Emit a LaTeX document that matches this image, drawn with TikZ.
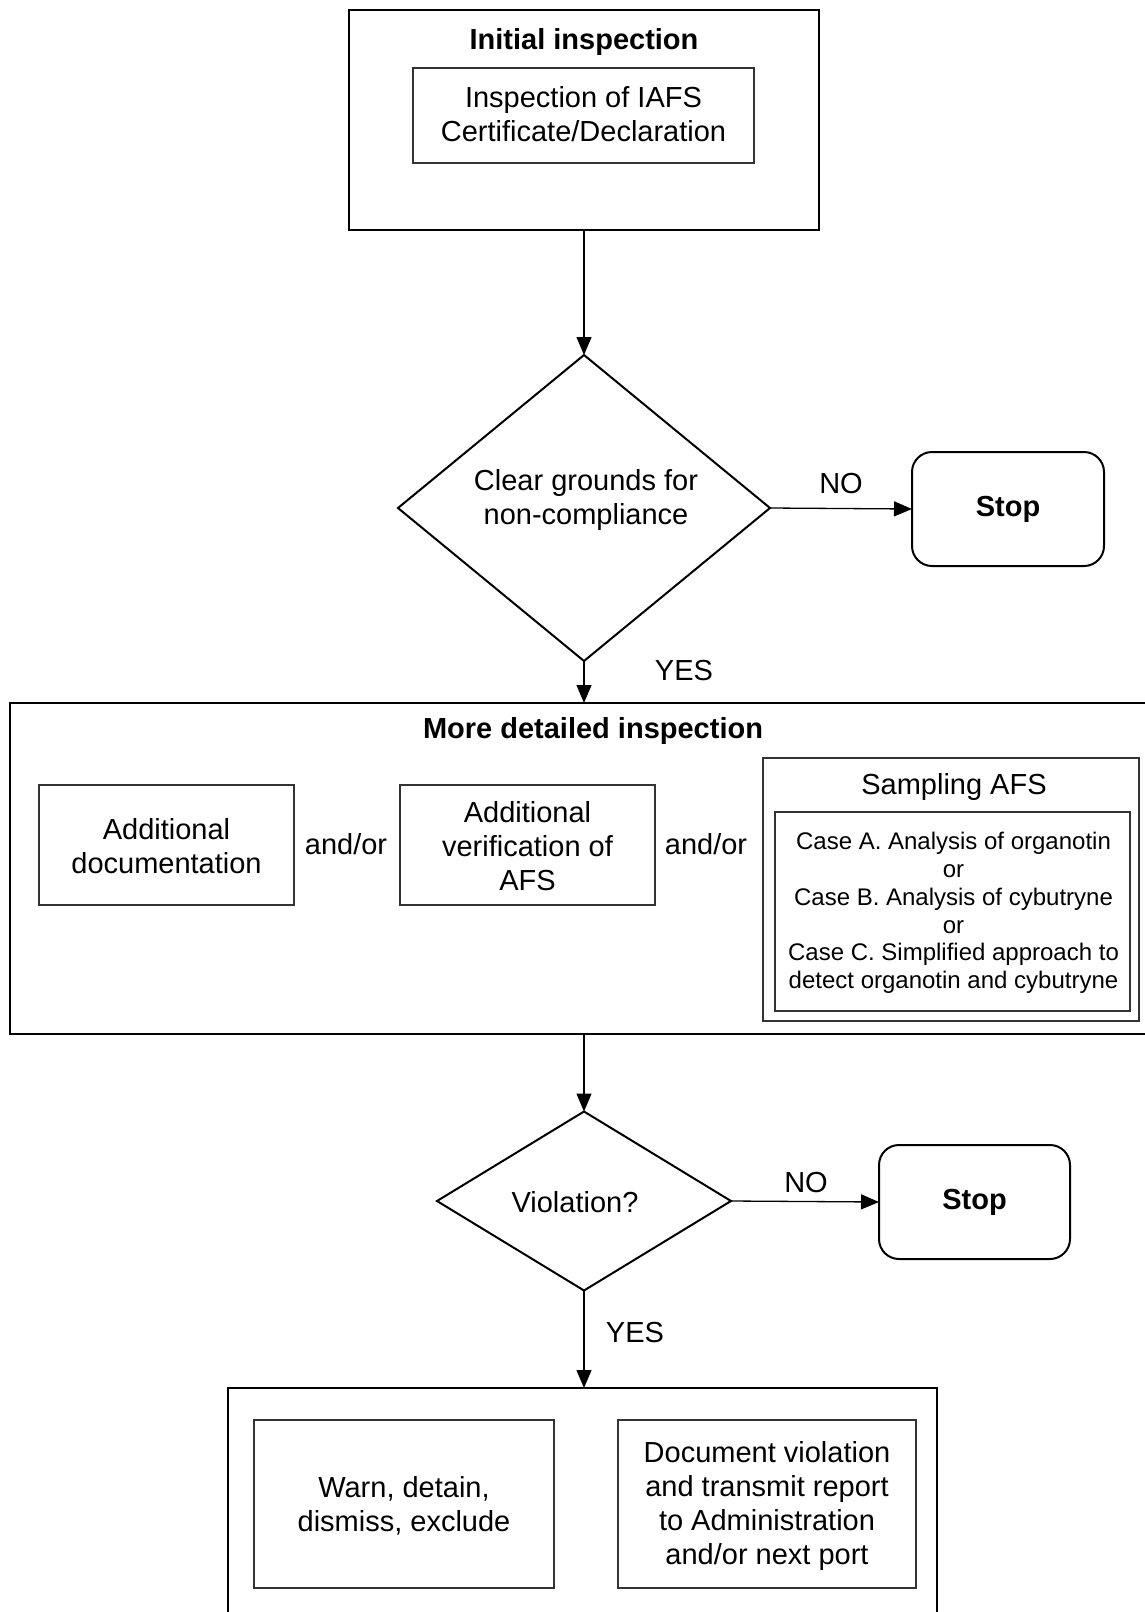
\documentclass[tikz,border=0pt]{standalone}
\usepackage{fontspec}
\setmainfont{Liberation Sans}
\usetikzlibrary{arrows.meta,shapes.geometric}
\begin{document}
\begin{tikzpicture}[x=1pt,y=-1pt,
  txt/.style={font=\fontsize{29}{34}\selectfont, align=center, inner sep=0pt},
  btxt/.style={font=\fontsize{29}{34}\selectfont\bfseries, align=center, inner sep=0pt},
  stxt/.style={font=\fontsize{24}{27.7}\selectfont, align=center, inner sep=0pt},
  bigbox/.style={draw, line width=2.8pt, rectangle, inner sep=0pt, outer sep=0pt},
  outbox/.style={draw, line width=1.4pt, rectangle, inner sep=0pt, outer sep=0pt},
  subbox/.style={draw=black!80, line width=1.3pt, rectangle, inner sep=0pt, outer sep=0pt},
  decision/.style={draw, line width=2pt, diamond, inner sep=0pt, outer sep=0pt},
  stopbox/.style={draw, line width=2pt, rectangle, rounded corners=20pt, inner sep=0pt, outer sep=0pt,
    font=\fontsize{29}{34}\selectfont\bfseries},
  conn/.style={line width=1.3pt, -{Triangle[length=18pt,width=15pt]}},
  lbl/.style={font=\fontsize{29}{34}\selectfont, inner sep=0pt}
]
\useasboundingbox (0,0) rectangle (1144,1612);
\fill[white] (0,0) rectangle (1144,1612);

% Initial inspection
\node[outbox, minimum width=470pt, minimum height=220pt] (b1) at (584,120) {};
\node[btxt] (t1) at (584,42) {Initial inspection};
\node[subbox, minimum width=341pt, minimum height=95pt] (b1i) at (583.5,115.5) {};
\node[txt] (t1i) at (583.5,114) {Inspection of IAFS\\Certificate/Declaration};

% Decision 1
\node[decision, minimum width=372pt, minimum height=306pt] (d1) at (584,508) {};
\node[txt] (td1) at (586,500) {Clear grounds for\\non-compliance};
\node[stopbox, minimum width=192pt, minimum height=114pt] (s1) at (1008,509) {Stop};

% More detailed inspection
\node[bigbox, minimum width=1166pt, minimum height=331pt] (b2) at (593,868.5) {};
\node[btxt] (t2) at (593,731) {More detailed inspection};
\node[subbox, minimum width=255pt, minimum height=120pt] (ba) at (166.5,845) {};
\node[txt] (ta) at (166.5,846) {Additional\\documentation};
\node[lbl] (ao1) at (346,844) {and/or};
\node[subbox, minimum width=255pt, minimum height=120pt] (bb) at (527.5,845) {};
\node[txt] (tb) at (527.5,846) {Additional\\verification of\\AFS};
\node[lbl] (ao2) at (706,844) {and/or};
\node[subbox, minimum width=376pt, minimum height=263pt] (bs) at (951,889.5) {};
\node[txt] (ts) at (954,787) {Sampling AFS};
\node[subbox, minimum width=355pt, minimum height=199pt] (bsi) at (952.5,911.5) {};
\node[stxt] (tsi) at (953.5,913) {Case A. Analysis of organotin\\or\\Case B. Analysis of cybutryne\\or\\Case C. Simplified approach to\\detect organotin and cybutryne};

% Decision 2
\node[decision, minimum width=294pt, minimum height=179pt] (d2) at (584,1201) {};
\node[txt] (td2) at (575,1202) {Violation?};
\node[stopbox, minimum width=191pt, minimum height=114pt] (s2) at (974.5,1202) {Stop};

% Actions
\node[bigbox, minimum width=709pt, minimum height=252pt] (b4) at (582.5,1514) {};
\node[subbox, minimum width=300pt, minimum height=168pt] (bw) at (404,1504) {};
\node[txt] (tw) at (404,1506) {Warn, detain,\\dismiss, exclude};
\node[subbox, minimum width=298pt, minimum height=168pt] (bd) at (767,1504) {};
\node[txt] (td) at (767,1506) {Document violation\\and transmit report\\to Administration\\and/or next port};

% Connectors
\draw[conn] (b1.south) -- (d1.north);
\draw[conn] (d1.east) -- (s1.west);
\node[lbl] (no1) at (841,484) {NO};
\draw[conn] (d1.south) -- (d1.south |- b2.north);
\node[lbl] (yes1) at (684,671) {YES};
\draw[conn] (d2.north |- b2.south) -- (d2.north);
\draw[conn] (d2.east) -- (s2.west);
\node[lbl] (no2) at (806,1183) {NO};
\draw[conn] (d2.south) -- (d2.south |- b4.north);
\node[lbl] (yes2) at (635,1332) {YES};
\end{tikzpicture}
\end{document}
